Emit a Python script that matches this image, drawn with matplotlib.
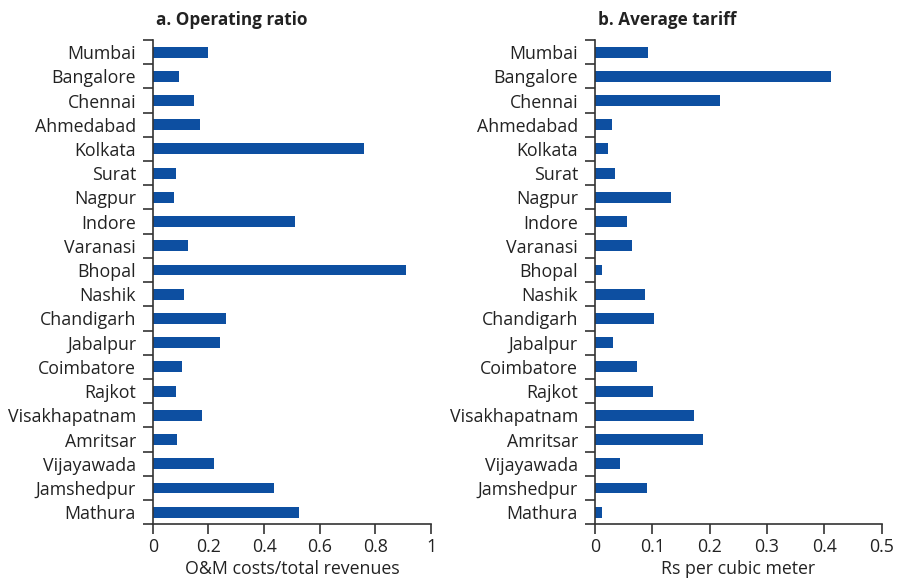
import matplotlib.pyplot as plt
import numpy as np

plt.rcParams['font.family'] = ['Open Sans', 'DejaVu Sans']

cities = ["Mumbai", "Bangalore", "Chennai", "Ahmedabad", "Kolkata", "Surat",
          "Nagpur", "Indore", "Varanasi", "Bhopal", "Nashik", "Chandigarh",
          "Jabalpur", "Coimbatore", "Rajkot", "Visakhapatnam", "Amritsar",
          "Vijayawada", "Jamshedpur", "Mathura"]

operating_ratio = [0.20, 0.094, 0.148, 0.170, 0.759, 0.084, 0.077, 0.511, 0.127,
                   0.910, 0.112, 0.263, 0.242, 0.105, 0.084, 0.177, 0.087,
                   0.220, 0.436, 0.525]

average_tariff = [0.093, 0.412, 0.218, 0.030, 0.023, 0.036, 0.133, 0.056, 0.065,
                  0.013, 0.088, 0.103, 0.032, 0.074, 0.102, 0.173, 0.189,
                  0.044, 0.091, 0.013]

left_ticks = [0, 0.2, 0.4, 0.6, 0.8, 1]
left_ticklabels = ["0", "0.2", "0.4", "0.6", "0.8", "1"]
right_ticks = [0, 0.1, 0.2, 0.3, 0.4, 0.5]
right_ticklabels = ["0", "0.1", "0.2", "0.3", "0.4", "0.5"]

bar_color = "#0d4fa1"
fs = 12.8

fig = plt.figure(figsize=(8.99, 5.81), dpi=100)
ax1 = fig.add_axes([0.1699, 0.0976, 0.3096, 0.8336])
ax2 = fig.add_axes([0.6615, 0.0976, 0.3193, 0.8336])

panels = [
    (ax1, operating_ratio, left_ticks, left_ticklabels, (0, 1),
     "a. Operating ratio", "O&M costs/total revenues"),
    (ax2, average_tariff, right_ticks, right_ticklabels, (0, 0.5),
     "b. Average tariff", "Rs per cubic meter"),
]

n = len(cities)
pos = np.arange(n)
for ax, vals, ticks, tlabels, xlim, title, xlabel in panels:
    ax.barh(pos, vals, height=0.45, color=bar_color)
    ax.set_ylim(n - 0.5, -0.5)
    ax.set_xlim(*xlim)
    ax.set_yticks(pos)
    ax.set_yticklabels(cities, fontsize=fs, color='#222222')
    ax.set_yticks(np.arange(n + 1) - 0.5, minor=True)
    ax.tick_params(axis='y', which='major', length=0, pad=12)
    ax.tick_params(axis='y', which='minor', length=7, width=1.2, color='#333333')
    ax.set_xticks(ticks)
    ax.set_xticklabels(tlabels, fontsize=fs, color='#222222')
    ax.tick_params(axis='x', length=7, width=1.2, color='#333333', pad=3)
    ax.set_xlabel(xlabel, fontsize=fs, labelpad=3, color='#222222')
    for s in ("top", "right"):
        ax.spines[s].set_visible(False)
    for s in ("left", "bottom"):
        ax.spines[s].set_linewidth(1.2)
        ax.spines[s].set_color('#333333')
    ax.text(0.01, 1.022, title, transform=ax.transAxes, fontsize=12.3,
            fontweight='bold', ha='left', va='bottom', color='#222222')

fig.savefig("out.png", dpi=100)
